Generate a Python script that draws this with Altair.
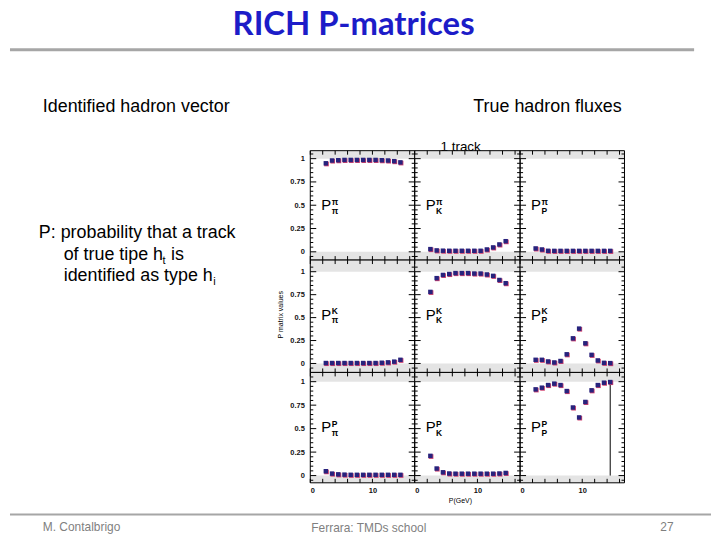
import altair as alt
import pandas as pd

# ---------------- text content ----------------
TITLE = "RICH  P-matrices"
LEFT_HEADING = "Identified hadron vector"
RIGHT_HEADING = "True hadron fluxes"
NOTE_LINE1 = "P: probability that a track"
NOTE_LINE2 = ["of true tipe h", "t", "is"]
NOTE_LINE3 = ["identified as type h", "i"]
PLOT_TITLE = "1 track"
Y_TITLE = "P matrix values"
X_TITLE = "P(GeV)"
FOOTER = ["M. Contalbrigo", "Ferrara: TMDs school", "27"]

HADRONS = ["π", "K", "P"]          # row = identified (superscript), column = true (subscript)

# ---------------- data ----------------
MOMENTUM = [2.5, 3.5, 4.5, 5.5, 6.5, 7.5, 8.5, 9.5, 10.5, 11.5, 12.5, 13.5, 14.5]

P_PI_PI = [0.95, 0.98, 0.983, 0.986, 0.986, 0.986, 0.986, 0.986, 0.986, 0.983, 0.98, 0.973, 0.96]
P_PI_K = [0.029, 0.015, 0.012, 0.011, 0.011, 0.011, 0.011, 0.011, 0.011, 0.025, 0.047, 0.079, 0.114]
P_PI_P = [0.036, 0.025, 0.011, 0.01, 0.01, 0.01, 0.01, 0.01, 0.01, 0.01, 0.01, 0.01, 0.01]

P_K_PI = [0.005, 0.005, 0.005, 0.005, 0.005, 0.005, 0.005, 0.005, 0.005, 0.008, 0.012, 0.02, 0.04]
P_K_K = [0.78, 0.93, 0.965, 0.975, 0.985, 0.985, 0.985, 0.98, 0.98, 0.97, 0.955, 0.91, 0.875]
P_K_P = [0.04, 0.04, 0.022, 0.011, 0.027, 0.10, 0.274, 0.38, 0.22, 0.094, 0.033, 0.007, 0.004]

P_P_PI = [0.046, 0.021, 0.013, 0.01, 0.008, 0.008, 0.008, 0.008, 0.008, 0.008, 0.008, 0.008, 0.008]
P_P_K = [0.21, 0.075, 0.035, 0.022, 0.02, 0.02, 0.02, 0.02, 0.02, 0.02, 0.02, 0.022, 0.028]
P_P_P = [0.918, 0.936, 0.964, 0.979, 0.964, 0.90, 0.725, 0.619, 0.784, 0.908, 0.964, 0.989, 0.996]

P_MATRIX = [
    [P_PI_PI, P_PI_K, P_PI_P],
    [P_K_PI, P_K_K, P_K_P],
    [P_P_PI, P_P_K, P_P_P],
]

CUT_MOMENTUM = 14.5          # vertical line in the P-P panel
CUT_RANGE = [1.0, 0.0]

X_TICKS = [0, 2, 4, 6, 8, 10, 12, 14, 16]
X_LABELS = [0, 10]
Y_MAJOR = [0, 0.25, 0.5, 0.75, 1]
Y_MINOR = [-0.05, 0.05, 0.1, 0.15, 0.2, 0.3, 0.35, 0.4, 0.45, 0.55, 0.6, 0.65,
           0.7, 0.8, 0.85, 0.9, 0.95, 1.05]
Y_LABELS = [0, 0.25, 0.5, 0.75, 1]
BAND_LIMITS = [1.0, 0.0]

# ---------------- layout / style ----------------
FONT = "Liberation Sans"
COL_W = [105, 106, 105]
ROW_H = [110, 113, 111]
HEADER_H = 142
SPACER_W = 304
X_DOMAIN = [0, 16.8]
Y_DOMAINS = [[-0.0886, 1.0854], [-0.0975, 1.127], [-0.077, 1.0985]]
BAND = "#e4e4e4"
BLUE = "#27237d"
RED = "#d0406e"

one = pd.DataFrame({"d": [0]})


def txt(s, x, y, size, color="black", align="left", weight="normal", font=FONT, angle=0,
        baseline="alphabetic"):
    return alt.Chart(one).mark_text(
        text=s, align=align, baseline=baseline, fontSize=size, color=color,
        fontWeight=weight, font=font, angle=angle
    ).encode(x=alt.value(x), y=alt.value(y))


def hline(x1, x2, y, color, width):
    return alt.Chart(one).mark_rule(color=color, strokeWidth=width).encode(
        x=alt.value(x1), x2=alt.value(x2), y=alt.value(y))


def panel(r, c):
    W, H = COL_W[c], ROW_H[r]
    sx = alt.Scale(domain=X_DOMAIN, nice=False, zero=False)
    sy = alt.Scale(domain=Y_DOMAINS[r], nice=False, zero=False)
    if r == 2:
        xaxis = alt.Axis(values=X_LABELS, format=".2~f", ticks=False, domain=False, grid=False,
                         labelFontSize=7.5, labelFontWeight="bold", labelFont=FONT,
                         labelColor="#111111", labelPadding=4, title=None)
    else:
        xaxis = None
    if c == 0:
        yaxis = alt.Axis(values=Y_LABELS, format=".2~f", ticks=False, domain=False, grid=False,
                         labelFontSize=7.5, labelFontWeight="bold", labelFont=FONT,
                         labelColor="#111111", labelPadding=6, title=None)
    else:
        yaxis = None

    def X(f):
        return alt.X(f, type="quantitative", scale=sx, axis=xaxis)

    def Y(f):
        return alt.Y(f, type="quantitative", scale=sy, axis=yaxis)

    layers = []
    # grey bands outside [0, 1]
    layers.append(alt.Chart(one).mark_rect(color=BAND).encode(
        x=alt.value(0), x2=alt.value(W),
        y=alt.YDatum(BAND_LIMITS[0], type="quantitative", scale=sy, axis=yaxis),
        y2=alt.value(0)))
    layers.append(alt.Chart(one).mark_rect(color=BAND).encode(
        x=alt.value(0), x2=alt.value(W),
        y=alt.YDatum(BAND_LIMITS[1], type="quantitative", scale=sy, axis=yaxis),
        y2=alt.value(H)))

    ymaj = pd.DataFrame({"t": Y_MAJOR})
    ymin = pd.DataFrame({"t": Y_MINOR})
    xt = pd.DataFrame({"t": X_TICKS})
    for df, ln in ((ymaj, 6), (ymin, 3)):
        layers.append(alt.Chart(df).mark_rule(color="black", strokeWidth=1).encode(
            y=Y("t"), x=alt.value(0), x2=alt.value(ln)))
        layers.append(alt.Chart(df).mark_rule(color="black", strokeWidth=1).encode(
            y=Y("t"), x=alt.value(W - ln), x2=alt.value(W)))
    layers.append(alt.Chart(xt).mark_rule(color="black", strokeWidth=1).encode(
        x=X("t"), y=alt.value(0), y2=alt.value(4)))
    layers.append(alt.Chart(xt).mark_rule(color="black", strokeWidth=1).encode(
        x=X("t"), y=alt.value(H - 4), y2=alt.value(H)))

    # frame
    layers.append(alt.Chart(one).mark_rect(fillOpacity=0, stroke="black", strokeWidth=1).encode(
        x=alt.value(0), x2=alt.value(W), y=alt.value(0), y2=alt.value(H)))

    if r == 2 and c == 2:
        cut = pd.DataFrame({"p": [CUT_MOMENTUM], "a": [CUT_RANGE[0]], "b": [CUT_RANGE[1]]})
        layers.append(alt.Chart(cut).mark_rule(color="black", strokeWidth=1).encode(
            x=X("p"), y=Y("a"), y2=alt.Y2("b")))

    pts = pd.DataFrame({"p": MOMENTUM, "v": P_MATRIX[r][c]})
    layers.append(alt.Chart(pts).mark_square(size=22, color=RED, opacity=1, xOffset=0.7,
                                             yOffset=0.7).encode(x=X("p"), y=Y("v")))
    layers.append(alt.Chart(pts).mark_square(size=20, color=BLUE, opacity=1).encode(
        x=X("p"), y=Y("v")))

    # P label with superscript (identified) and subscript (true)
    layers.append(txt("P", 11, 60, 15))
    layers.append(txt(HADRONS[r], 21.5, 54.5, 8.5, weight="bold"))
    layers.append(txt(HADRONS[c], 21.5, 63.5, 8.5, weight="bold"))

    return alt.layer(*layers).properties(width=W, height=H)


def blank(w, h):
    return alt.Chart(one).mark_text(text="", baseline="top", fontSize=1).encode(
        x=alt.value(10), y=alt.value(10)).properties(width=w, height=h)


# header cell carries all slide texts (page coords minus 8 px margin)
header_layers = [
    txt(TITLE, 347.5, 0, 33, color="#1c1cc8", align="center", weight="bold", font="Lato",
        baseline="top"),
    hline(2, 690, 40.5, "#a6a6a6", 3),
    txt(LEFT_HEADING, 35, 103, 18),
    txt(RIGHT_HEADING, 468, 103, 18),
    txt(NOTE_LINE1, 31, 230, 18),
    txt(NOTE_LINE2[0], 56, 252, 18),
    txt(NOTE_LINE2[1], 155.5, 256, 11),
    txt(NOTE_LINE2[2], 164, 252, 18),
    txt(NOTE_LINE3[0], 56, 273, 18),
    txt(NOTE_LINE3[1], 206.5, 277, 11),
    txt(PLOT_TITLE, 435, 142, 13.5),
    txt(Y_TITLE, 275, 307, 7, align="center", angle=270, baseline="middle"),
    txt(X_TITLE, 455, 494, 7, align="center", baseline="middle"),
    hline(2, 707, 508, "#a6a6a6", 2),
    txt(FOOTER[0], 35, 524, 12, color="#7f7f7f"),
    txt(FOOTER[1], 305, 525, 12, color="#7f7f7f"),
    txt(FOOTER[2], 656, 524, 12, color="#7f7f7f"),
]
header = alt.layer(*header_layers).properties(width=SPACER_W, height=HEADER_H)

cells = [header] + [blank(COL_W[c], HEADER_H) for c in range(3)]
for r in range(3):
    cells.append(blank(SPACER_W, ROW_H[r]))
    for c in range(3):
        cells.append(panel(r, c))

chart = alt.concat(*cells, columns=4, spacing=0, bounds="flush").properties(
    padding=0, background="white"
).configure_view(stroke="transparent", strokeWidth=0)

chart.save("out.html", embed_options={"renderer": "svg", "actions": False})
